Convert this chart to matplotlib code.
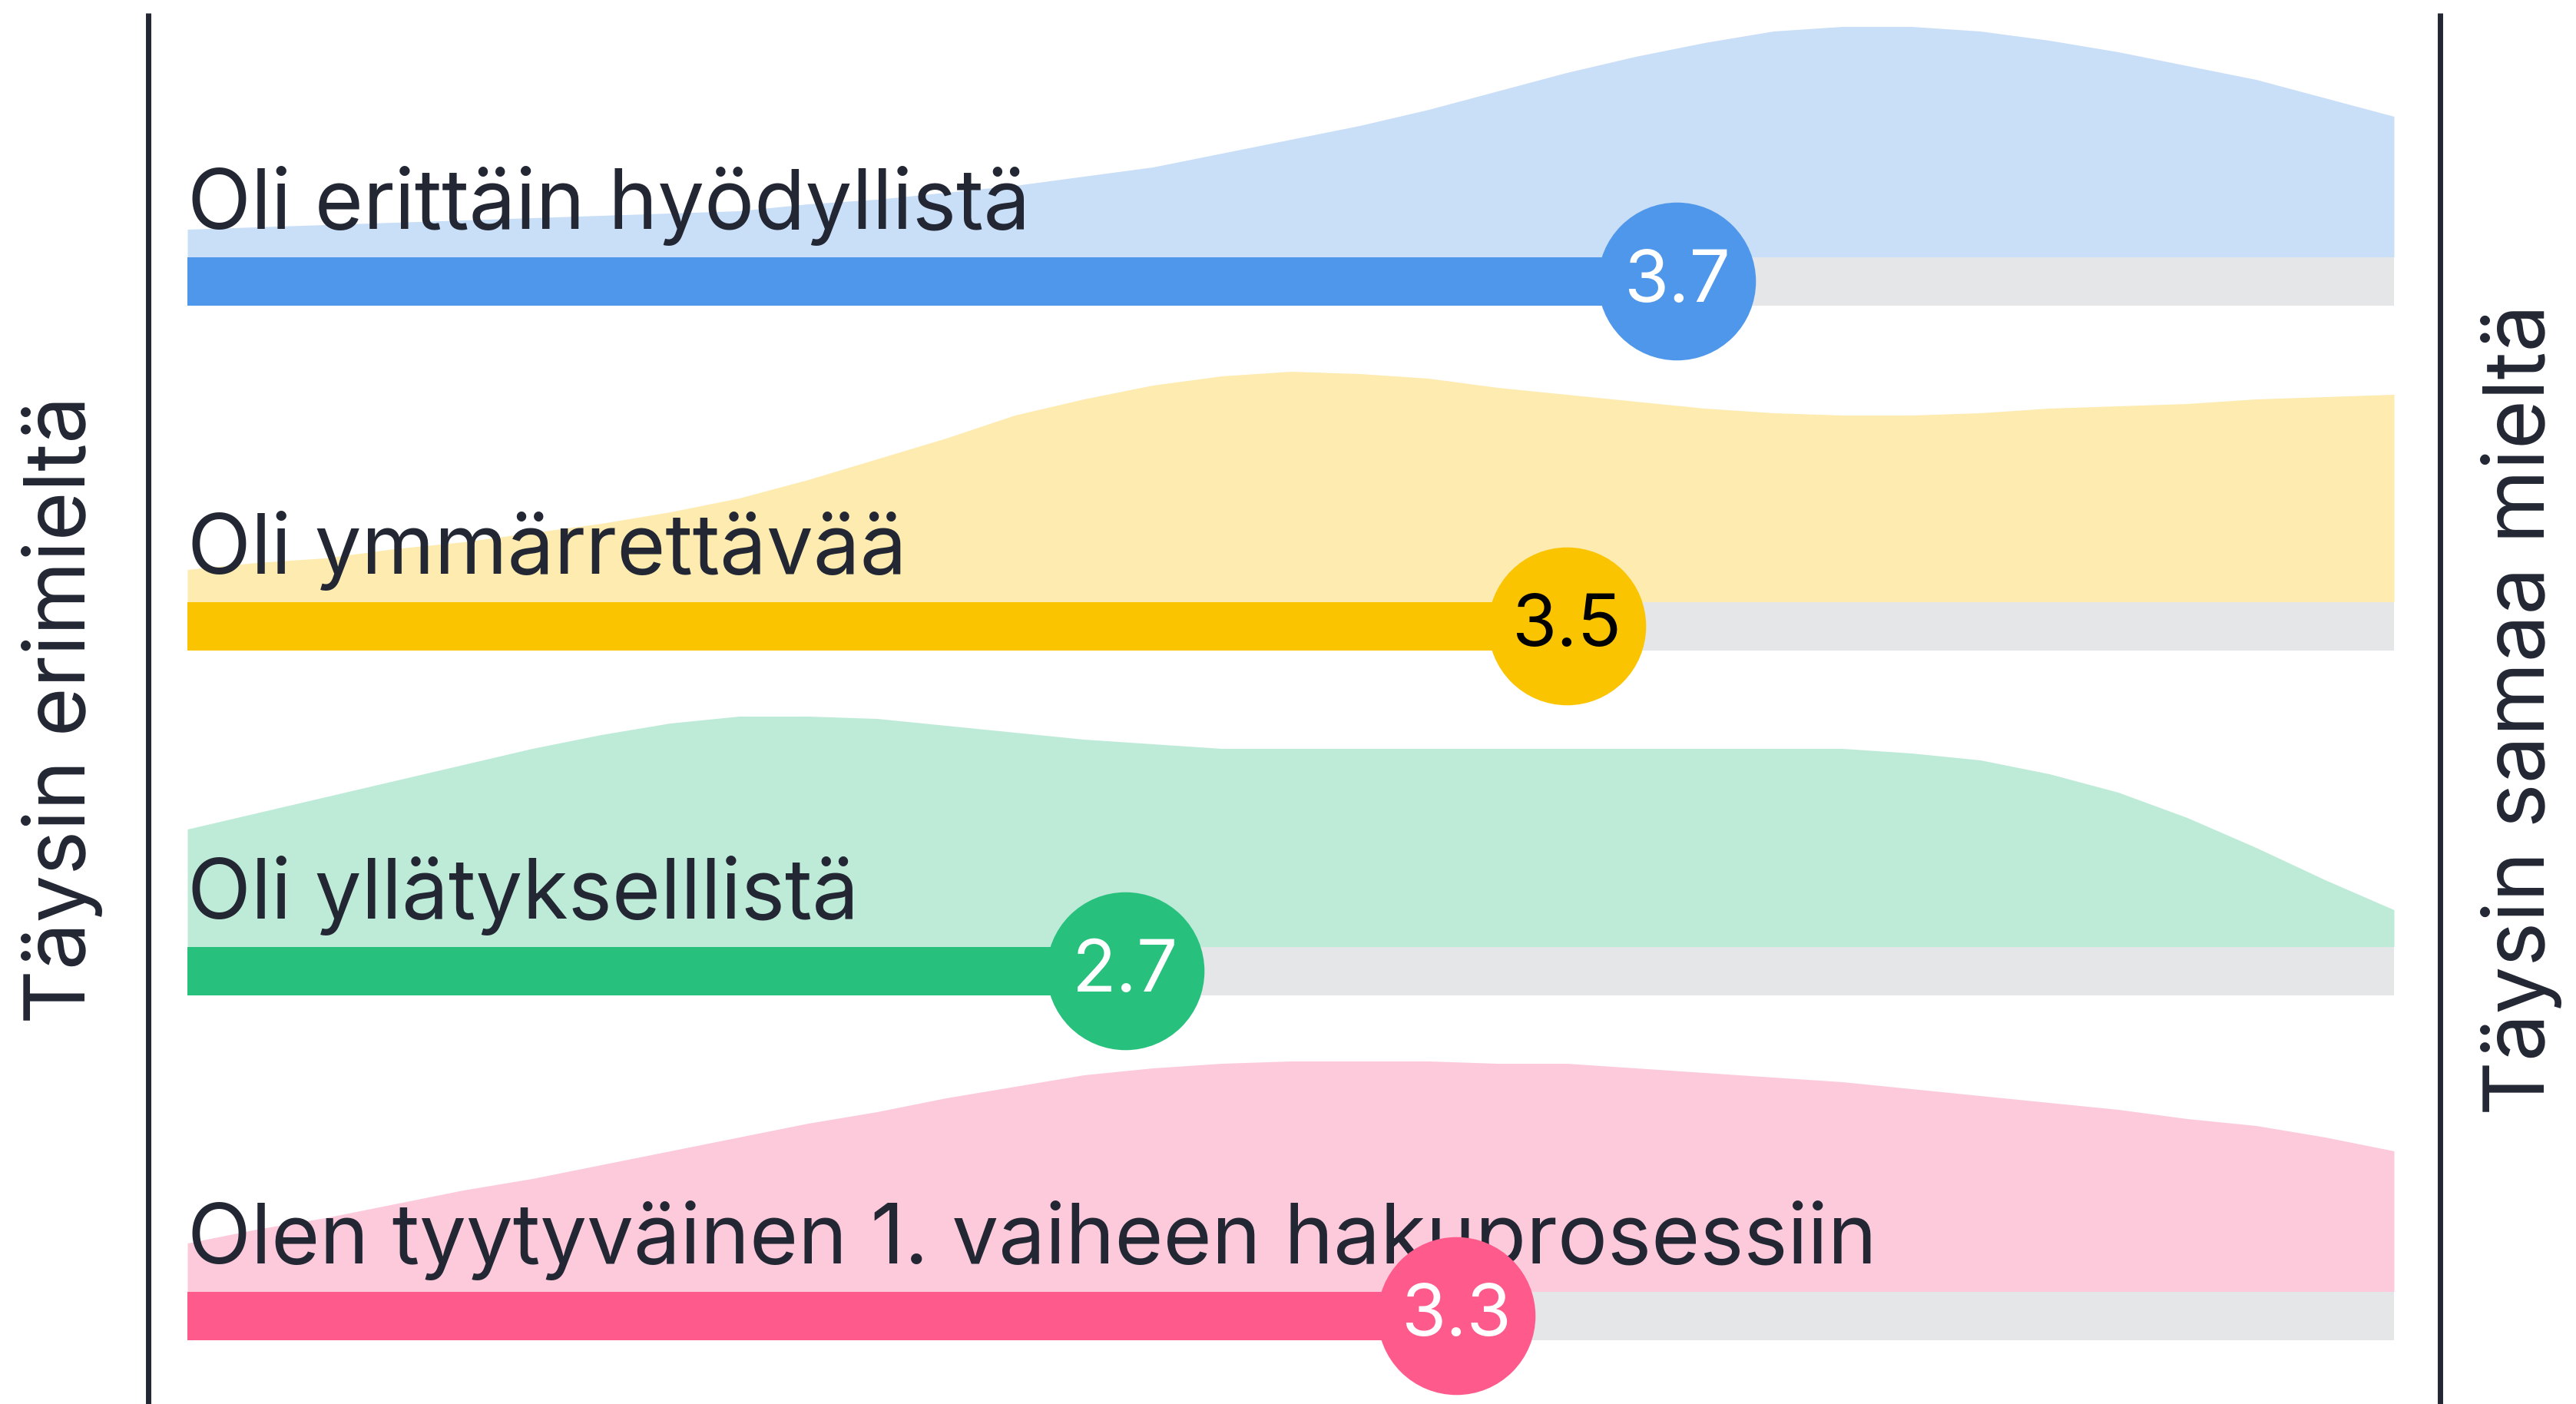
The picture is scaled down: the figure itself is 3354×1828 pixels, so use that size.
import matplotlib
matplotlib.use("Agg")
from matplotlib import pyplot as plt
import numpy as np

plt.rcParams['font.family'] = ['Inter', 'DejaVu Sans']

# survey statements, mean scores (scale 1..5)
labels = ["Oli erittäin hyödyllistä",
          "Oli ymmärrettävää",
          "Oli yllätykselllistä",
          "Olen tyytyväinen 1. vaiheen hakuprosessiin"]
means = [3.7, 3.5, 2.7, 3.3]

# answer distribution shape (percent of own peak), read every 0.125 from 1 to 5
dens_x = np.arange(1.0, 5.001, 0.125)
dens_blue = [12, 13, 14, 15, 16, 17, 18, 19, 20, 23, 25, 28, 31, 35, 39, 45, 51,
             57, 64, 72, 80, 87, 93, 98, 100, 100, 98, 94, 89, 83, 77, 69, 61]
dens_yellow = [14, 17, 19, 23, 26, 30, 34, 39, 45, 53, 62, 71, 81, 88, 94, 98, 100,
               99, 97, 93, 90, 87, 84, 82, 81, 81, 82, 84, 85, 86, 88, 89, 90]
dens_green = [51, 58, 65, 72, 79, 86, 92, 97, 100, 100, 99, 96, 93, 90, 88, 86, 86,
              86, 86, 86, 86, 86, 86, 86, 86, 84, 81, 75, 67, 56, 43, 29, 16]
dens_pink = [21, 27, 32, 38, 44, 49, 55, 61, 67, 73, 78, 84, 89, 94, 97, 99, 100,
             100, 100, 99, 99, 97, 95, 93, 91, 88, 85, 82, 79, 75, 72, 67, 61]
densities = [dens_blue, dens_yellow, dens_green, dens_pink]

bar_colors = ["#4F97EA", "#FBC400", "#27C07D", "#FF5A8C"]
fill_colors = ["#C9DEF7", "#FDEBB0", "#BEEBD8", "#FCCADB"]
value_text_colors = ["white", "black", "white", "white"]
track_color = "#E5E6E8"
ink = "#222733"

W, H = 3354, 1828
fig = plt.figure(figsize=(W / 100, H / 100), dpi=100)
ax = fig.add_axes([0, 0, 1, 1])

# x axis in answer units, y in pixels from the top
unit = (3117 - 244) / 4.0
def px(xp):
    return 1 + (xp - 244) / unit

ax.set_xlim(px(0), px(W))
ax.set_ylim(H, 0)
ax.axis("off")

row_y0, row_step = 366, 449
bar_h = 63
dens_h = 300

for i, (lab, m, d) in enumerate(zip(labels, means, densities)):
    yc = row_y0 + i * row_step
    base = yc - bar_h / 2
    ax.fill_between(dens_x, base, base - np.array(d) / 100 * dens_h,
                    color=fill_colors[i], linewidth=0, zorder=1)
    ax.barh(yc, 4, left=1, height=bar_h, color=track_color, zorder=2)
    ax.barh(yc, m - 1, left=1, height=bar_h, color=bar_colors[i], zorder=3)
    ax.text(1.0, yc - 98, lab, fontsize=78, color=ink, va="center",
            ha="left", zorder=4)
    ax.scatter([m], [yc], s=148 ** 2, color=bar_colors[i], linewidths=0,
               zorder=5)
    ax.text(m, yc + 2, f"{m:.1f}", fontsize=68, color=value_text_colors[i],
            ha="center", va="center", zorder=6)

# side scale lines and end labels
ax.vlines([px(193), px(3177)], 17, H, color=ink, linewidth=5, zorder=0)
ax.text(px(81), 924, "Täysin erimieltä", rotation=90, fontsize=79,
        color=ink, ha="center", va="center")
ax.text(px(3283), 924, "Täysin samaa mieltä", rotation=90, fontsize=79,
        color=ink, ha="center", va="center")

fig.savefig("out.png", dpi=100, facecolor="white")
